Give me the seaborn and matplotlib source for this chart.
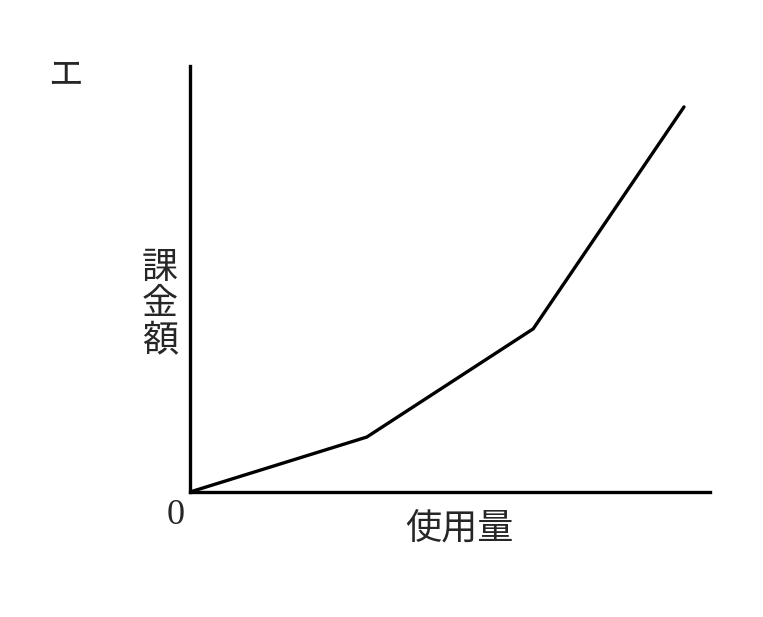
import matplotlib
matplotlib.use("Agg")
import matplotlib.pyplot as plt
import seaborn as sns
import pandas as pd

# usage vs. charge (axis units 0-100)
usage = [0, 34, 66, 95]
charge = [0, 12.9, 38.3, 90.4]

sns.set_style("white")
plt.rcParams["font.family"] = ["Noto Sans CJK JP", "DejaVu Sans"]

df = pd.DataFrame({"usage": usage, "charge": charge})

fig = plt.figure(figsize=(7.63, 6.17), dpi=100)
ax = fig.add_axes([190 / 763, 125 / 617, 520 / 763, 426 / 617])

sns.lineplot(data=df, x="usage", y="charge", ax=ax, color="black",
             linewidth=2.4, sort=False)

ax.set_xlim(0, 100)
ax.set_ylim(0, 100)
ax.set_xticks([])
ax.set_yticks([])
ax.set_xlabel("")
ax.set_ylabel("")
sns.despine(ax=ax)
for s in ["left", "bottom"]:
    ax.spines[s].set_linewidth(2.4)
    ax.spines[s].set_color("black")

fig.text(65 / 763, 1 - 76 / 617, "エ", fontsize=25, ha="center", va="center")
fig.text(160 / 763, 1 - 304 / 617, "課\n金\n額", fontsize=26, ha="center",
         va="center", linespacing=1.0)
fig.text(176 / 763, 1 - 516 / 617, "0", fontsize=26, ha="center", va="center",
         family="Liberation Serif")
fig.text(459 / 763, 1 - 529 / 617, "使用量", fontsize=26, ha="center",
         va="center")

fig.savefig("out.png", dpi=100)
